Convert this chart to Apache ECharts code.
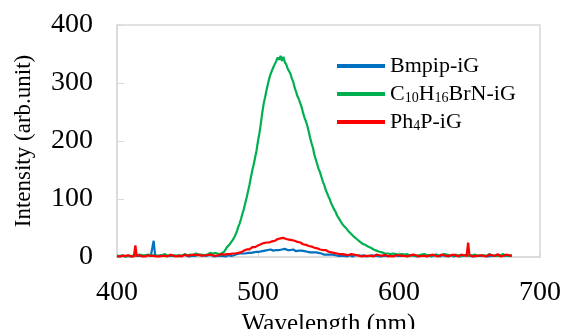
<!DOCTYPE html>
<html>
<head>
<meta charset="utf-8">
<script src="https://cdn.jsdelivr.net/npm/echarts@6/dist/echarts.min.js"></script>
<style>html,body{margin:0;padding:0;background:#fff;}#c{width:561px;height:329px;}</style>
</head>
<body>
<div id="c"></div>
<script>
// Wavelength start/end (nm), 1 nm step
const wlStart = 400;
const seriesNames = ['Bmpip-iG', 'C10H16BrN-iG', 'Ph4P-iG'];
const xTicks = [400, 500, 600, 700];
const yTicks = [0, 100, 200, 300, 400];

const bmpip = [
2,3,1,2,3,2,1,3,2,2,1,3,2,1,2,3,2,1,2,3,
2,1,3,2,2,3,28,3,1,2,2,3,1,2,3,2,1,2,3,2,
1,2,3,2,4,2,1,3,2,3,2,1,4,2,3,2,1,3,2,3,
2,3,1,2,4,3,2,3,2,1,3,2,4,2,3,2,3,1,2,3,
3,2,4,3,4,5,4,6,5,6,7,6,8,7,8,7,9,8,10,9,
10,9,11,10,12,11,10,12,11,13,12,11,14,12,13,12,14,13,12,14,
13,12,14,12,11,13,12,10,12,11,10,11,9,10,8,9,10,8,7,8,
7,8,6,7,5,6,5,4,5,4,3,4,3,4,2,3,4,2,3,2,
3,2,3,1,2,3,2,1,2,3,2,3,1,2,2,3,2,1,3,2,
2,3,1,2,3,2,2,1,3,2,3,2,1,2,3,2,1,3,2,2,
3,2,1,2,3,2,4,2,1,3,2,2,3,1,2,3,2,2,1,3,
2,3,2,1,2,3,2,4,2,1,2,3,2,2,3,1,2,3,2,1,
2,3,2,1,3,2,2,3,1,2,2,3,2,1,3,2,4,2,1,2,
3,2,2,1,3,2,4,2,1,2,3,2,2,3,1,2,3,2,1,2,
2];

const c10h16 = [
2,3,2,4,2,3,1,3,2,4,2,3,2,1,3,2,4,2,3,2,
3,2,4,2,3,2,3,4,2,3,2,4,3,2,5,3,2,4,3,2,
3,4,2,5,3,4,2,3,5,4,3,2,4,5,3,4,6,3,4,5,
4,5,3,6,4,5,7,4,6,5,7,6,5,8,6,7,9,8,17,19,
22,25,29,33,38,44,52,58,66,75,83,93,103,114,125,138,150,160,172,184,
200,213,230,248,264,275,287,298,308,316,322,328,333,338,344,340,347,338,345,336,
332,325,322,316,308,302,292,285,277,272,265,258,248,240,234,226,216,205,196,188,
176,168,160,152,146,138,130,124,116,110,104,99,92,87,82,78,72,68,64,60,
56,54,51,48,45,42,40,37,35,32,31,29,27,25,23,22,21,19,18,17,
16,15,13,12,11,10,9,9,8,7,6,5,6,4,5,3,6,4,5,3,
4,3,5,2,4,3,5,3,2,4,3,5,2,4,3,2,4,3,5,2,
3,4,2,5,3,2,4,3,2,4,3,2,5,3,4,2,3,4,2,3,
4,2,3,5,2,4,3,2,4,3,2,5,3,2,4,3,2,4,3,2,
3,4,2,3,5,2,3,4,2,3,2,4,3,2,5,3,2,4,3,2,
3];

const ph4p = [
1,2,1,3,2,1,2,1,3,2,1,2,1,20,2,1,3,2,1,2,
1,2,3,1,2,1,2,3,1,2,1,3,2,1,2,3,1,2,4,1,
2,3,1,4,2,3,1,2,4,3,2,1,3,2,4,1,3,2,4,3,
2,4,3,1,3,2,4,2,3,5,2,4,3,2,5,3,4,3,5,4,
5,4,6,7,6,8,7,9,8,10,11,12,13,14,13,16,17,18,17,19,
20,21,22,21,24,23,25,26,25,28,27,29,28,30,31,30,32,31,33,32,
31,33,30,31,29,30,28,29,26,27,25,24,22,23,21,22,19,20,18,17,
16,17,15,14,13,14,12,11,12,10,9,10,8,9,7,8,6,7,5,6,
5,6,4,5,3,4,5,3,4,2,3,4,2,3,1,3,2,4,2,3,
2,3,1,2,4,2,3,1,2,3,4,2,1,3,2,4,1,2,3,2,
3,1,2,4,2,3,1,2,3,2,4,1,3,2,1,3,2,4,2,3,
1,2,3,2,4,1,2,3,1,2,4,2,3,1,2,3,2,1,4,2,
3,2,1,2,4,2,3,1,2,25,3,2,1,3,2,4,2,1,3,2,
2,3,1,2,4,2,3,1,2,3,5,2,1,3,2,1,4,2,3,1,
2];

const colors = ['#0070c0', '#00b050', '#ff0000'];
const font = '"Liberation Serif", "Times New Roman", serif';

function pairs(arr) { return arr.map((v, i) => [wlStart + i, v]); }

const chart = echarts.init(document.getElementById('c'), null, {renderer: 'canvas'});
chart.setOption({
  animation: false,
  backgroundColor: '#fff',
  grid: {left: 117, right: 21, top: 25, bottom: 72, show: true, borderColor: '#d9d9d9', borderWidth: 1.5,
    containLabel: false, outerBoundsMode: 'none'},
  legend: {
    orient: 'vertical', left: 332, top: 49, itemWidth: 48, itemHeight: 4, itemGap: 4,
    icon: 'rect',
    data: seriesNames,
    textStyle: {fontFamily: font, fontSize: 22, color: '#000', lineHeight: 24,
      rich: {
        n: {fontFamily: font, fontSize: 22, color: '#000'},
        s: {fontFamily: font, fontSize: 14, color: '#000', padding: [9, 0, 0, 0]}
      }},
    formatter: function (name) {
      if (name === 'C10H16BrN-iG') return '{n|C}{s|10}{n|H}{s|16}{n|BrN-iG}';
      if (name === 'Ph4P-iG') return '{n|Ph}{s|4}{n|P-iG}';
      return '{n|' + name + '}';
    }
  },
  xAxis: {
    type: 'value', min: xTicks[0], max: xTicks[xTicks.length - 1], interval: 100,
    name: 'Wavelength (nm)', nameLocation: 'middle', nameGap: 48,
    nameTextStyle: {fontFamily: font, fontSize: 25, color: '#000'},
    axisLine: {show: true, lineStyle: {color: '#d9d9d9', width: 1.5}},
    axisTick: {show: true, inside: true, length: 6, lineStyle: {color: '#d9d9d9'}},
    axisLabel: {fontFamily: font, fontSize: 28, color: '#000', margin: 22},
    splitLine: {show: false}
  },
  yAxis: {
    type: 'value', min: yTicks[0], max: yTicks[yTicks.length - 1], interval: 100,
    name: 'Intensity (arb.unit)', nameLocation: 'middle', nameGap: 82, nameRotate: 90,
    nameTextStyle: {fontFamily: font, fontSize: 23, color: '#000'},
    axisLine: {show: true, lineStyle: {color: '#d9d9d9', width: 1.5}},
    axisTick: {show: true, inside: true, length: 7, lineStyle: {color: '#d9d9d9'}},
    axisLabel: {fontFamily: font, fontSize: 28, color: '#000', margin: 24},
    splitLine: {show: false}
  },
  series: [
    {name: seriesNames[0], type: 'line', data: pairs(bmpip), showSymbol: false, symbol: 'none', lineStyle: {width: 2.2, color: colors[0]}, itemStyle: {color: colors[0]}},
    {name: seriesNames[1], type: 'line', data: pairs(c10h16), showSymbol: false, symbol: 'none', lineStyle: {width: 2.2, color: colors[1]}, itemStyle: {color: colors[1]}},
    {name: seriesNames[2], type: 'line', data: pairs(ph4p), showSymbol: false, symbol: 'none', lineStyle: {width: 2.2, color: colors[2]}, itemStyle: {color: colors[2]}}
  ]
});
</script>
</body>
</html>
